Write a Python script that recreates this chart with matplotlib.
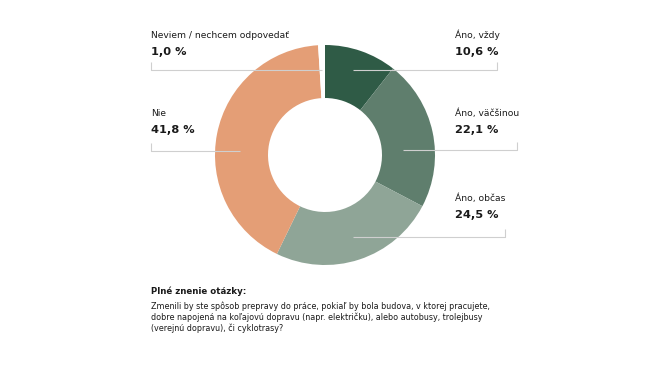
import matplotlib
matplotlib.use("Agg")
import matplotlib.pyplot as plt

plt.rcParams['font.family'] = ['DejaVu Sans']

# Data
categories = ["Áno, vždy", "Áno, väčšinou", "Áno, občas", "Nie", "Neviem / nechcem odpovedať"]
shares = [10.6, 22.1, 24.5, 41.8, 1.0]
colors = ["#2f5b46", "#5f7e6d", "#8fa597", "#e49e76", "#ffffff"]

question_title = "Plné znenie otázky:"
question_lines = [
    "Zmenili by ste spôsob prepravy do práce, pokiaľ by bola budova, v ktorej pracujete,",
    "dobre napojená na koľajovú dopravu (napr. električku), alebo autobusy, trolejbusy",
    "(verejnú dopravu), či cyklotrasy?",
]

# label layout in pixel space: (text x, label y, line y, line start x, line end x)
label_layout = [
    (455, 35, 70, 353, 497),
    (455, 113, 150, 403, 517),
    (455, 198, 237, 353, 505),
    (151, 113, 151, 240, 151),
    (151, 35, 70, 322, 151),
]

fig = plt.figure(figsize=(6.5, 3.71), dpi=100)
ax = fig.add_axes([0, 0, 1, 1])

# y axis inverted -> start at -90 with counterclock gives top start, clockwise visually
ax.pie(shares, colors=colors, radius=110, center=(325, 155), startangle=-90,
       counterclock=True, wedgeprops=dict(width=53, linewidth=0))
ax.set_xlim(0, 650)
ax.set_ylim(371, 0)
ax.set_aspect('equal')
ax.axis('off')

txt_col = "#1a1a1a"
line_col = "#cfcfcf"
for cat, val, (tx, ly, liney, x0, x1) in zip(categories, shares, label_layout):
    ax.plot([x0, x1, x1], [liney, liney, liney - 8], color=line_col, lw=0.8,
            solid_capstyle='butt', zorder=3)
    ax.text(tx, ly, cat, fontsize=6.6, color=txt_col, ha='left', va='center')
    ax.text(tx, ly + 17, f"{val:.1f}".replace('.', ',') + " %", fontsize=8.2,
            fontweight='bold', color=txt_col, ha='left', va='center')

ax.text(151, 291, question_title, fontsize=6.2, fontweight='bold', color=txt_col,
        ha='left', va='center')
for i, line in enumerate(question_lines):
    ax.text(151, 306 + i * 11, line, fontsize=5.75, color=txt_col, ha='left', va='center')

fig.savefig("out.png", dpi=100, facecolor='white')
